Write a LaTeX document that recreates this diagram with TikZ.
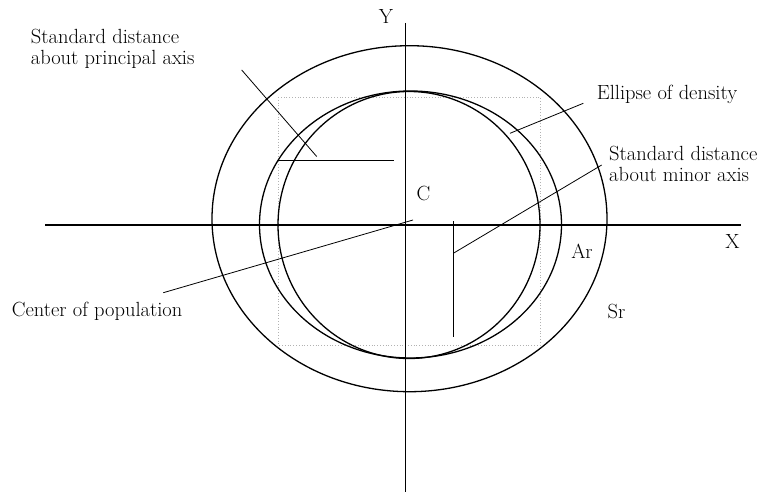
\documentclass[tikz,border=0pt]{standalone}
\begin{document}
\begin{tikzpicture}[x=1pt,y=-1pt,
  curve/.style={line width=1.3pt},
  axis/.style={line width=1.2pt},
  leader/.style={line width=0.8pt},
  guide/.style={gray!60,dotted,line width=0.8pt},
  lbl/.style={inner sep=0pt,font=\fontsize{20.5}{21}\selectfont}]
\useasboundingbox (0,0) rectangle (763,492);
% guide rectangle
\draw[guide] (278,97) rectangle (540,345);
% axes
\coordinate (xl) at (45,225);
\coordinate (xr) at (741,225);
\coordinate (yt) at (405.5,23);
\coordinate (yb) at (405.5,492);
\draw[axis] (xl) -- (xr);
\draw[axis] (yt) -- (yb);
% ellipses
\draw[curve] (409.5,218.7) ellipse [x radius=197.5, y radius=173];
\draw[curve] (410.5,224.5) ellipse [x radius=151, y radius=133.5];
\draw[curve] (409,225) ellipse [x radius=131, y radius=133.5];
% principal axis distance
\coordinate (pa1) at (278,160.5);
\coordinate (pa2) at (394,160.5);
\draw[leader] (pa1) -- (pa2);
% minor axis distance
\coordinate (ma1) at (453,221);
\coordinate (ma2) at (453,337);
\draw[leader] (ma1) -- (ma2);
% labels
\node[lbl,anchor=north west,align=left] (sdp) at (30.7,29) {Standard distance\\about principal axis};
\node[lbl,anchor=north west,align=left] (sdm) at (609,146) {Standard distance\\about minor axis};
\node[lbl,anchor=base west] (eod) at (596.7,100) {Ellipse of density};
\node[lbl,anchor=base west] (cop) at (11.7,316.7) {Center of population};
\node[lbl,anchor=base] (Y) at (386,24) {Y};
\node[lbl,anchor=base] (C) at (423.5,200) {C};
\node[lbl,anchor=base] (X) at (732.5,248) {X};
\node[lbl,anchor=base] (Ar) at (582,258) {Ar};
\node[lbl,anchor=base] (Sr) at (616.5,318) {Sr};
% leaders
\coordinate (l1s) at (241.7,70);
\coordinate (l1e) at (316.7,156.5);
\draw[leader] (l1s) -- (l1e);
\coordinate (l2s) at (583.3,103.3);
\coordinate (l2e) at (510,133.3);
\draw[leader] (l2s) -- (l2e);
\coordinate (l3s) at (601.7,165);
\coordinate (l3e) at (453.3,253.3);
\draw[leader] (l3s) -- (l3e);
\coordinate (l4s) at (163.3,292.7);
\coordinate (l4e) at (413,220);
\draw[leader] (l4s) -- (l4e);
\end{tikzpicture}
\end{document}
